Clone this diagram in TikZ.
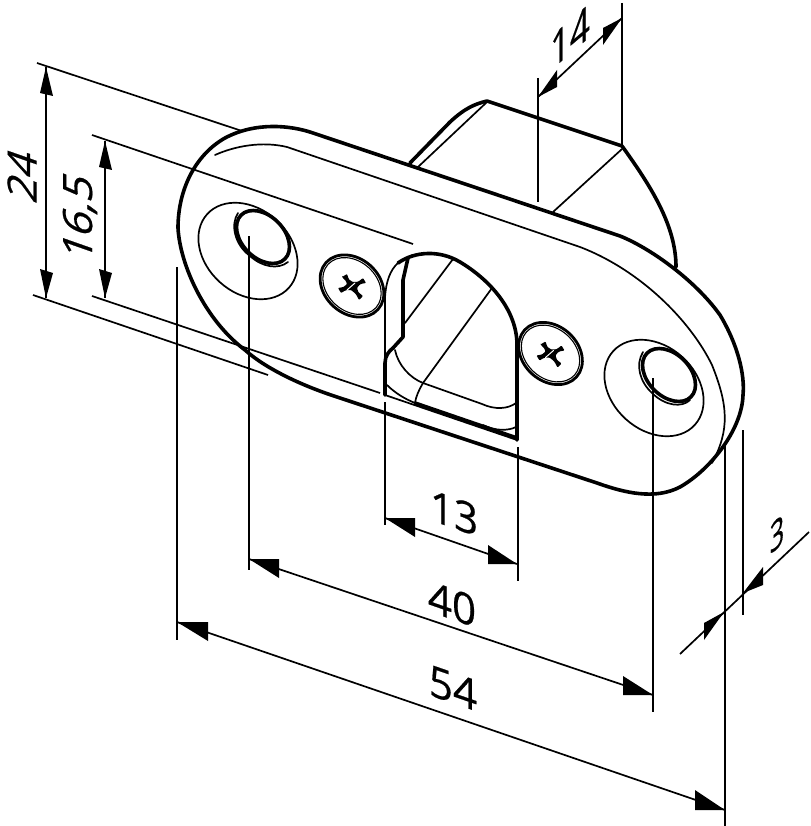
\documentclass[tikz,border=0pt]{standalone}
\usepackage{fontspec}
\setmainfont[FakeBold=0.5]{Open Sans}
\tikzset{
  thick line/.style={line width=3.6pt,line cap=round,line join=round},
  thin line/.style={line width=1.7pt,line cap=round,line join=round},
  dim line/.style={line width=1.7pt},
  iso down/.style={inner sep=0pt,transform shape,cm={0.98,-0.34,0,1,(0,0)},font=\fontsize{43}{43}\selectfont},
  iso side/.style={inner sep=0pt,transform shape,cm={0,1,-0.94,0.33,(0,0)},font=\fontsize{43}{43}\selectfont},
  iso up/.style={inner sep=0pt,transform shape,cm={0.74,0.63,0,1,(0,0)},font=\fontsize{47}{47}\selectfont},
  iso three/.style={inner sep=0pt,transform shape,cm={0.62,0.55,0,1,(0,0)},font=\fontsize{41}{41}\selectfont},
}
\newcommand{\headtri}[3]{\fill (#1)--(#2)--(#3)--cycle;}
\newcommand{\tiltell}[6]{\draw[#1,rotate around={#6:(#2,#3)}] (#2,#3) ellipse [x radius=#4pt,y radius=#5pt];}
\newcommand{\screwmark}[2]{%
  \tiltell{thick line,line width=2.8pt}{#1}{#2}{35}{27.5}{-42}
  \tiltell{thin line,line width=1.1pt}{#1}{#2}{32.3}{24.8}{-42}
  \begin{scope}[shift={(#1,#2)}]
    \fill[rounded corners=0.8pt] (-10,-9) -- (-5,-12) .. controls (-3,-6) .. (1,-4) .. controls (6,-4) .. (11,-8) -- (14,-3)
      .. controls (8,-2) .. (5,2) .. controls (6,6) .. (11,10) -- (7,14) .. controls (4,8) .. (-1,4)
      .. controls (-6,4) .. (-11,7) -- (-14,2) .. controls (-8,1) .. (-5,-2) .. controls (-6,-5) .. cycle;
    \draw[white,line width=1pt,line cap=round] (-5,4) .. controls (-1,0) .. (3,-3);
  \end{scope}
}
\begin{document}
\begin{tikzpicture}[x=1pt,y=-1pt]
\useasboundingbox (0,0) rectangle (810,826);

% rear block
\draw[thick line] (410,163) -- (450,122) .. controls (465,108) and (475,104) .. (487,101) -- (622,146)
  .. controls (650,185) and (676,225) .. (676,267);
\draw[thin line] (418,167) -- (487,102);
\draw[thin line] (622,149) -- (553,212);

% plate outer outline
\draw[thick line] (620,236) -- (313,133) .. controls (290,125) and (255,122) .. (225,138)
  .. controls (195,155) and (178,190) .. (178,228) .. controls (180,265) and (205,320) .. (245,350)
  .. controls (265,368) and (300,385) .. (337,397) -- (597,483)
  .. controls (625,493) and (655,500) .. (680,487) .. controls (710,470) and (742,430) .. (743,395)
  .. controls (745,375) and (738,345) .. (720,315) .. controls (695,280) and (650,248) .. (620,236) -- cycle;

% plate inner line
\draw[thin line] (215,155) .. controls (235,146) and (262,141) .. (287,147) -- (580,247)
  .. controls (640,270) and (690,320) .. (712,365) .. controls (728,405) and (730,430) .. (712,463);

% left hole
\tiltell{thin line}{248}{251}{55}{42}{-42}
\tiltell{thick line}{263}{237}{31}{21}{-45}
\draw[thin line] (238,213) .. controls (230,225) and (235,245) .. (250,256) .. controls (262,267) and (278,270) .. (288,262);

% right hole
\tiltell{thin line}{654}{388}{55}{42}{-42}
\tiltell{thick line}{669}{375}{31}{21}{-45}
\draw[thin line] (643,352) .. controls (635,365) and (640,382) .. (652,393) .. controls (665,406) and (682,408) .. (690,400);

% screws
\screwmark{352}{286}
\screwmark{550.5}{353.5}

% slot
\draw[thick line] (385,395) -- (385,363) .. controls (385,356) and (389,351) .. (393,348) -- (403,337) -- (403,280) -- (408,258);
\draw[thick line] (398,263) .. controls (415,251) and (440,250) .. (460,262) .. controls (490,280) and (517,310) .. (517,345) -- (517,440);
\draw[thick line] (415,403) -- (517,438);
\draw[thin line] (385,395) -- (517,440);
\draw[thin line] (385,297) .. controls (386,282) and (390,270) .. (398,263) .. controls (403,259) and (408,257) .. (413,255);
\draw[thin line] (453,259) -- (405,323);
\draw[thin line] (492,288) -- (423,383) .. controls (419,390) and (416,396) .. (415,403);
\draw[thin line] (395,350) .. controls (398,365) and (410,378) .. (423,383) -- (482,404) .. controls (495,410) and (508,409) .. (516,403);
\draw[thin line] (387,385) .. controls (395,393) and (405,399) .. (415,403);
\draw[thin line] (483,425) .. controls (495,431) and (508,431) .. (516,427);

% extension lines
\draw[dim line] (37,63) -- (242,131);
\draw[dim line] (92,135) -- (413,244);
\draw[dim line] (33,295) -- (268,375);
\draw[dim line] (92,296) -- (380,393);
\draw[dim line] (177,267) -- (177,640);
\draw[dim line] (249,236) -- (249,570);
\draw[dim line] (385,297) -- (385,395);
\draw[dim line] (385,402) -- (385,525);
\draw[dim line] (518,447) -- (518,581);
\draw[dim line] (653,378) -- (653,712);
\draw[dim line] (725,442) -- (725,826);
\draw[dim line] (743,430) -- (743,615);
\draw[dim line] (538,78) -- (538,202);
\draw[dim line] (622,3) -- (622,145);

% dimension ends
\coordinate (a24t) at (46,67);   \coordinate (a24b) at (46,298);
\coordinate (a16t) at (105,141); \coordinate (a16b) at (105,298);
\coordinate (a14l) at (538,97);  \coordinate (a14r) at (622,18);
\coordinate (a13l) at (385,518); \coordinate (a13r) at (517,564);
\coordinate (a40l) at (249,559); \coordinate (a40r) at (653,695);
\coordinate (a54l) at (177,622); \coordinate (a54r) at (725,810);
\coordinate (a3l) at (680,654);  \coordinate (a3r) at (809,532);

\draw[dim line] (a24t) -- (a24b);
\draw[dim line] (a16t) -- (a16b);
\draw[dim line] (a14l) -- (a14r);
\draw[dim line] (a13l) -- (a13r);
\draw[dim line] (a40l) -- (a40r);
\draw[dim line] (a54l) -- (a54r);
\draw[dim line] (a3l) -- (a3r);

% arrowheads
\headtri{a24t}{40,93}{53,96}
\headtri{a24b}{40,269}{53,273}
\headtri{a16t}{99,167}{112,170}
\headtri{a16b}{99,269}{112,273}
\headtri{a14l}{557,70}{557,87}
\headtri{a14r}{603,28}{603,45}
\headtri{a13l}{415,518}{415,537}
\headtri{a13r}{488,545}{488,564}
\headtri{a40l}{279,559}{279,578}
\headtri{a40r}{623,676}{623,695}
\headtri{a54l}{208,622}{208,641}
\headtri{a54r}{695,790}{695,810}
\headtri{724,612}{704,623}{704,640}
\headtri{743,593}{763,567}{763,585}

% labels
\node[iso side] (t24) at (22,175) {24};
\node[iso side] (t16) at (80,217) {16,5};
\node[iso up] (t14) at (570,37) {14};
\node[iso down] (t13) at (454,513) {13};
\node[iso down] (t40) at (452,604) {40};
\node[iso down] (t54) at (453,688) {54};
\node[iso three] (t3) at (777,534) {3};
\end{tikzpicture}
\end{document}
